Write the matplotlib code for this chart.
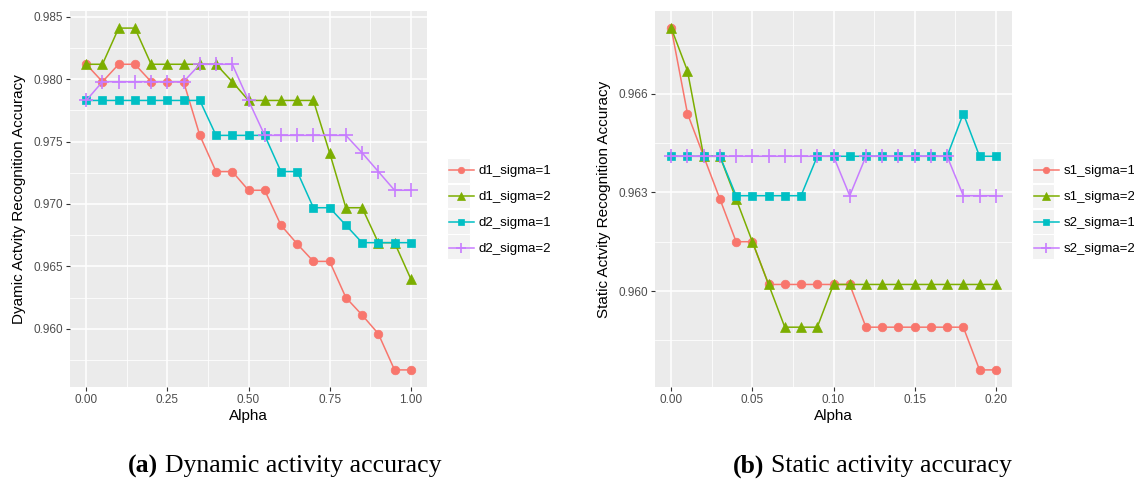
import matplotlib
matplotlib.use('Agg')
import matplotlib.pyplot as plt
from matplotlib.patches import Rectangle
import numpy as np

# ---- data ----
alpha_dyn = [0.00, 0.05, 0.10, 0.15, 0.20, 0.25, 0.30, 0.35, 0.40, 0.45, 0.50,
             0.55, 0.60, 0.65, 0.70, 0.75, 0.80, 0.85, 0.90, 0.95, 1.00]
d1_sigma1 = [0.9812, 0.9798, 0.9812, 0.9812, 0.9798, 0.9798, 0.9798, 0.9755, 0.9726, 0.9726, 0.9711,
             0.9711, 0.9683, 0.9668, 0.9654, 0.9654, 0.9625, 0.9611, 0.9596, 0.9567, 0.9567]
d1_sigma2 = [0.9812, 0.9812, 0.9841, 0.9841, 0.9812, 0.9812, 0.9812, 0.9812, 0.9812, 0.9798, 0.9783,
             0.9783, 0.9783, 0.9783, 0.9783, 0.9741, 0.9697, 0.9697, 0.9669, 0.9669, 0.9640]
d2_sigma1 = [0.9783, 0.9783, 0.9783, 0.9783, 0.9783, 0.9783, 0.9783, 0.9783, 0.9755, 0.9755, 0.9755,
             0.9755, 0.9726, 0.9726, 0.9697, 0.9697, 0.9683, 0.9669, 0.9669, 0.9669, 0.9669]
d2_sigma2 = [0.9783, 0.9798, 0.9798, 0.9798, 0.9798, 0.9798, 0.9798, 0.9812, 0.9812, 0.9812, 0.9783,
             0.9755, 0.9755, 0.9755, 0.9755, 0.9755, 0.9755, 0.9741, 0.9726, 0.9711, 0.9711]

alpha_sta = [0.00, 0.01, 0.02, 0.03, 0.04, 0.05, 0.06, 0.07, 0.08, 0.09, 0.10,
             0.11, 0.12, 0.13, 0.14, 0.15, 0.16, 0.17, 0.18, 0.19, 0.20]
s1_sigma1 = [0.9680, 0.9654, 0.9641, 0.9628, 0.9615, 0.9615, 0.9602, 0.9602, 0.9602, 0.9602, 0.9602,
             0.9602, 0.9589, 0.9589, 0.9589, 0.9589, 0.9589, 0.9589, 0.9589, 0.9576, 0.9576]
s1_sigma2 = [0.9680, 0.9667, 0.9641, 0.9641, 0.9628, 0.9615, 0.9602, 0.9589, 0.9589, 0.9589, 0.9602,
             0.9602, 0.9602, 0.9602, 0.9602, 0.9602, 0.9602, 0.9602, 0.9602, 0.9602, 0.9602]
s2_sigma1 = [0.9641, 0.9641, 0.9641, 0.9641, 0.9629, 0.9629, 0.9629, 0.9629, 0.9629, 0.9641, 0.9641,
             0.9641, 0.9641, 0.9641, 0.9641, 0.9641, 0.9641, 0.9641, 0.9654, 0.9641, 0.9641]
s2_sigma2 = [0.9641, 0.9641, 0.9641, 0.9641, 0.9641, 0.9641, 0.9641, 0.9641, 0.9641, 0.9641, 0.9641,
             0.9629, 0.9641, 0.9641, 0.9641, 0.9641, 0.9641, 0.9641, 0.9629, 0.9629, 0.9629]

dyn_labels = ['d1_sigma=1', 'd1_sigma=2', 'd2_sigma=1', 'd2_sigma=2']
sta_labels = ['s1_sigma=1', 's1_sigma=2', 's2_sigma=1', 's2_sigma=2']

# ggplot default hue palette and shapes
colors = ['#F8766D', '#7CAE00', '#00BFC4', '#C77CFF']
markers = ['o', '^', 's', '+']
msizes = [6.2, 7, 5.8, 10]

plt.rcParams['font.family'] = ['Liberation Sans', 'DejaVu Sans']

W, H = 1134, 479
fig = plt.figure(figsize=(W / 100, H / 100), dpi=100)


def px_axes(x0, y0, x1, y1):
    # rectangle given in pixel coords (top-left origin)
    return fig.add_axes([x0 / W, 1 - y1 / H, (x1 - x0) / W, (y1 - y0) / H])


def gg_style(ax, xmaj, xmin, ymaj, ymin, xfmt, yfmt):
    ax.set_facecolor('#EBEBEB')
    for s in ax.spines.values():
        s.set_visible(False)
    ax.set_xticks(xmaj)
    ax.set_xticklabels([xfmt.format(v) for v in xmaj])
    ax.set_yticks(ymaj)
    ax.set_yticklabels([yfmt.format(v) for v in ymaj])
    ax.set_xticks(xmin, minor=True)
    ax.set_yticks(ymin, minor=True)
    ax.grid(which='major', color='white', linewidth=1.1)
    ax.grid(which='minor', color='white', linewidth=0.55)
    ax.set_axisbelow(True)
    ax.tick_params(which='major', length=3, width=0.8, color='#333333',
                   labelcolor='#4D4D4D', labelsize=8.5, pad=2)
    ax.tick_params(which='minor', length=0)


def expand(vals, frac=0.05):
    lo, hi = min(vals), max(vals)
    d = (hi - lo) * frac
    return lo - d, hi + d


def draw_panel(ax, x, series, labels):
    handles = []
    for ys, lab, c, m, ms in zip(series, labels, colors, markers, msizes):
        h, = ax.plot(x, ys, color=c, marker=m, markersize=ms, linewidth=1.1,
                     markeredgewidth=1.2 if m == '+' else 0.5, label=lab)
        handles.append(h)
    ax.set_xlim(*expand(x))
    ax.set_ylim(*expand([v for s in series for v in s]))
    ax.set_xlabel('Alpha', fontsize=11, labelpad=2)
    return handles


def gg_legend(ax, handles, labels, key_x0, key_x1):
    # grey key backgrounds
    top, step = 157, 25.5
    for i in range(len(labels)):
        fig.patches.append(Rectangle((key_x0 / W, 1 - (top + step * (i + 1)) / H),
                                     (key_x1 - key_x0) / W, (step - 1) / H,
                                     transform=fig.transFigure, facecolor='#F2F2F2',
                                     edgecolor='white', linewidth=0.8, zorder=-1))
    ax.legend(handles, labels, loc='upper left',
              bbox_to_anchor=((key_x0 - 1) / W, 1 - (top + 5.5) / H),
              bbox_transform=fig.transFigure, frameon=False, fontsize=9.5,
              handlelength=1.9, handletextpad=0.35, labelspacing=1.04,
              borderaxespad=0, borderpad=0.2, markerscale=0.75)


# ---- (a) dynamic ----
ax1 = px_axes(70, 11, 427, 387)
gg_style(ax1, [0, 0.25, 0.5, 0.75, 1.0], [0.125, 0.375, 0.625, 0.875],
         [0.960, 0.965, 0.970, 0.975, 0.980, 0.985],
         [0.9575, 0.9625, 0.9675, 0.9725, 0.9775, 0.9825], '{:.2f}', '{:.3f}')
h1 = draw_panel(ax1, alpha_dyn, [d1_sigma1, d1_sigma2, d2_sigma1, d2_sigma2], dyn_labels)
ax1.set_ylabel('Dyamic Actvity Recognition Accuracy', fontsize=11, labelpad=5)
gg_legend(ax1, h1, dyn_labels, 447, 470)

# ---- (b) static ----
ax2 = px_axes(655, 11, 1012, 387)
gg_style(ax2, [0, 0.05, 0.10, 0.15, 0.20], [0.025, 0.075, 0.125, 0.175],
         [0.960, 0.963, 0.966],
         [0.9585, 0.9615, 0.9645, 0.9675], '{:.2f}', '{:.3f}')
h2 = draw_panel(ax2, alpha_sta, [s1_sigma1, s1_sigma2, s2_sigma1, s2_sigma2], sta_labels)
ax2.set_ylabel('Static Actvity Recognition Accuracy', fontsize=11, labelpad=5)
gg_legend(ax2, h2, sta_labels, 1032, 1054)

# ---- captions ----
cap_y = 1 - 466 / H
cap_size = 18.5
fig.text(158 / W, cap_y, '(a)', fontsize=cap_size, family='Liberation Serif',
         weight='bold', ha='right', va='center')
fig.text(165 / W, cap_y, 'Dynamic activity accuracy', fontsize=cap_size,
         family='Liberation Serif', ha='left', va='center')
fig.text(764 / W, cap_y, '(b)', fontsize=cap_size, family='Liberation Serif',
         weight='bold', ha='right', va='center')
fig.text(771 / W, cap_y, 'Static activity accuracy', fontsize=cap_size,
         family='Liberation Serif', ha='left', va='center')

fig.savefig('out.png', dpi=100)
